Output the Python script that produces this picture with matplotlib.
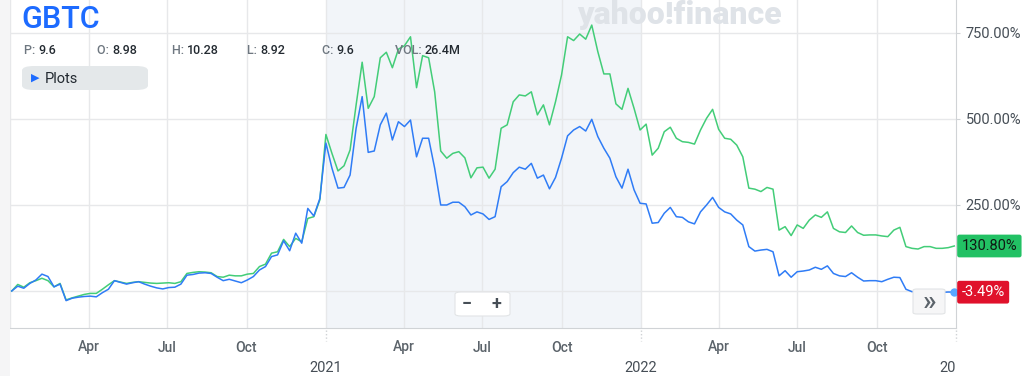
import numpy as np
import pandas as pd
import matplotlib
matplotlib.use("Agg")
import matplotlib.pyplot as plt
from matplotlib.patches import FancyBboxPatch, Rectangle
from matplotlib.transforms import Bbox, blended_transform_factory

plt.rcParams["font.family"] = ["Roboto", "DejaVu Sans"]

# ------------------------------------------------------------------
# data: weekly % change since first close (Jan 2020 -> Dec 2022)
start_date = "2020-01-03"

gbtc = [
    0, 14, 8, 22, 32, 49, 42, 12, 20, -28,
    -21, -18, -16, -15, -17, -5, 5, 30, 25, 20,
    24, 27, 20, 14, 9, 6, 10, 11, 20, 46,
    48, 52, 53, 51, 40, 30, 34, 29, 24, 32,
    42, 61, 71, 100, 105, 146, 117, 168, 139, 240,
    218, 269, 430, 357, 299, 301, 337, 473, 565, 403,
    407, 483, 517, 439, 492, 478, 497, 390, 444, 444,
    357, 250, 250, 258, 258, 245, 221, 230, 224, 208,
    216, 303, 318, 344, 360, 354, 371, 328, 337, 297,
    330, 386, 451, 468, 478, 465, 499, 449, 415, 386,
    332, 299, 354, 294, 255, 253, 197, 199, 226, 243,
    216, 214, 201, 195, 230, 250, 272, 243, 230, 224,
    206, 192, 129, 116, 119, 121, 114, 44, 59, 40,
    56, 58, 61, 69, 63, 73, 51, 44, 42, 53,
    40, 29, 30, 30, 27, 34, 40, 39, 5, -2,
    -2, -3, -4, -3, -4, -3, -3.49,
]

btc = [
    0, 19, 11, 24, 30, 37, 30, 12, 22, -26,
    -20, -15, -10, -7, -7, 5, 18, 30, 26, 22,
    25, 27, 25, 23, 22, 23, 24, 22, 27, 51,
    54, 56, 55, 53, 42, 40, 46, 44, 44, 49,
    51, 71, 78, 110, 114, 150, 129, 153, 143, 211,
    216, 265, 455, 400, 349, 364, 410, 541, 665, 531,
    565, 678, 694, 649, 703, 713, 739, 591, 684, 678,
    579, 407, 386, 400, 405, 387, 329, 358, 360, 328,
    354, 473, 483, 550, 570, 567, 579, 512, 541, 483,
    550, 628, 739, 728, 747, 732, 773, 696, 631, 631,
    544, 528, 589, 531, 468, 485, 395, 415, 463, 476,
    444, 434, 432, 427, 468, 502, 528, 470, 444, 441,
    424, 390, 299, 296, 289, 301, 296, 177, 187, 161,
    192, 182, 206, 221, 214, 230, 182, 172, 170, 189,
    170, 162, 163, 163, 160, 158, 177, 185, 129, 124,
    122, 129, 129, 124, 124, 126, 130.80,
]

y_ticks = [0, 250, 500, 750]
y_tick_labels = ["", "250.00%", "500.00%", "750.00%"]

quote_labels = ["P:", "O:", "H:", "L:", "C:", "VOL:"]
quote_values = ["9.6", "8.98", "10.28", "8.92", "9.6", "26.4M"]

dates = pd.date_range(start_date, periods=len(gbtc), freq="W-FRI")

BLUE = "#2f7cf6"
GREEN = "#43cd78"
GRID = "#e7e8ea"
AXIS = "#d0d3d6"

W, H = 1024, 376
fig = plt.figure(figsize=(W / 100, H / 100), dpi=100)
fig.patch.set_facecolor("white")

# thin light strip on the left edge
fig.patches.append(Rectangle((0, 0), 10 / W, 1, transform=fig.transFigure,
                             facecolor="#f5f5f6", edgecolor="none", zorder=0))

ax = fig.add_axes([10 / W, 48 / H, 946 / W, 328 / H])
ax.set_facecolor("none")

# 2021 highlight band
ax.axvspan(pd.Timestamp("2021-01-01"), pd.Timestamp("2022-01-01"),
           color="#f2f5f9", zorder=0, lw=0)

ax.plot(dates, btc, color=GREEN, lw=1.1, zorder=3)
ax.plot(dates, gbtc, color=BLUE, lw=1.1, zorder=4)
ax.plot(dates[-1], gbtc[-1], "o", color="#5aa8ff", ms=5, zorder=5, clip_on=False)

ax.set_xlim(pd.Timestamp("2020-01-01"), pd.Timestamp("2023-01-01"))
ax.set_ylim(-107.6, 845.9)

# ------------------------------------------------------------------
# axes styling
for side in ["top", "left"]:
    ax.spines[side].set_visible(False)
ax.spines["bottom"].set_color(AXIS)
ax.spines["right"].set_color(AXIS)

ax.yaxis.tick_right()
ax.set_yticks(y_ticks)
ax.set_yticklabels(y_tick_labels)
ax.tick_params(axis="y", length=3, color=AXIS, pad=4, labelsize=10.5, labelcolor="#464e56")

quarters = pd.date_range("2020-01-01", "2022-12-31", freq="QS")
ax.set_xticks(quarters)
ax.set_xticklabels(["" if d.month == 1 else d.strftime("%b") for d in quarters])
ax.tick_params(axis="x", length=0, pad=9, labelsize=10, labelcolor="#5b636a")
for lbl in ax.get_xticklabels():
    lbl.set_fontweight("medium")

ax.grid(True, color=GRID, lw=1, zorder=1)
ax.set_axisbelow(True)

# year labels under the January ticks
trans = blended_transform_factory(ax.transData, ax.transAxes)
for yr in [2021, 2022, 2023]:
    d = pd.Timestamp(f"{yr}-01-01")
    ax.plot([d, d], [-0.005, -0.04], transform=trans, color="#cfd2d5",
            lw=1, ls=(0, (1, 1.5)), clip_on=False)
    t = ax.text(d, -0.1, str(yr), transform=trans, ha="center", va="top",
                fontsize=10.5, color="#464e56")
    if yr == 2023:
        t.set_clip_box(Bbox([[0, 0], [956, H]]))
        t.set_clip_on(True)

# ------------------------------------------------------------------
# last value badges
def badge(val, face, txtcolor):
    ax.annotate(f"{val:.2f}%", xy=(1, val), xycoords=("axes fraction", "data"),
                xytext=(4, 0), textcoords="offset points", ha="left", va="center",
                fontsize=10.5, color=txtcolor, annotation_clip=False, zorder=10,
                bbox=dict(boxstyle="round,pad=0.3,rounding_size=0.15",
                          fc=face, ec="none"))

badge(btc[-1], "#22c164", "#0f1a14")
badge(gbtc[-1], "#e0112b", "white")

# ------------------------------------------------------------------
# header overlay
fig.text(21 / W, 1 - 19 / H, "GBTC", fontsize=22, color="#1d6bff",
         fontweight="medium", va="center", ha="left")

qx = [24, 97, 172, 247, 322, 395]
fig.canvas.draw()
for x, lab, val in zip(qx, quote_labels, quote_values):
    t1 = fig.text(x / W, 1 - 50 / H, lab + " ", fontsize=9, color="#6e7780",
                  va="center", ha="left", fontweight="medium")
    bb = t1.get_window_extent(renderer=fig.canvas.get_renderer())
    fig.text(bb.x1 / W, 1 - 50 / H, val, fontsize=9, color="#232a31",
             va="center", ha="left", fontweight="medium")

fig.patches.append(FancyBboxPatch((22 / W, 1 - 90 / H), 126 / W, 24 / H,
                                  boxstyle="round,pad=0,rounding_size=0.012",
                                  transform=fig.transFigure, facecolor="#e4e8ea",
                                  edgecolor="none", zorder=5))
fig.text(31 / W, 1 - 78 / H, "▶", fontsize=8, color="#1d6bff", va="center",
         ha="left", zorder=6)
fig.text(45 / W, 1 - 79 / H, "Plots", fontsize=10.5, color="#232a31",
         va="center", ha="left", zorder=6)

fig.text(577 / W, 1 - 15 / H, "yahoo!finance", fontsize=23, color="#dfe3e8",
         fontweight="black", va="center", ha="left", zorder=0)

# zoom buttons
fig.patches.append(FancyBboxPatch((455 / W, 1 - 316 / H), 55 / W, 24 / H,
                                  boxstyle="round,pad=0,rounding_size=0.006",
                                  transform=fig.transFigure, facecolor="white",
                                  edgecolor="#e2e4e6", lw=0.8, zorder=6))
fig.text(467 / W, 1 - 304 / H, "−", fontsize=13, color="#464e56", ha="center",
         va="center", zorder=7, fontweight="bold")
fig.text(496 / W, 1 - 304 / H, "+", fontsize=13, color="#464e56", ha="center",
         va="center", zorder=7, fontweight="bold")
fig.lines.append(plt.Line2D([483 / W, 483 / W], [1 - 296 / H, 1 - 312 / H],
                            transform=fig.transFigure, color="#e2e4e6", lw=0.8))

fig.patches.append(FancyBboxPatch((913 / W, 1 - 314 / H), 32 / W, 25 / H,
                                  boxstyle="round,pad=0,rounding_size=0.004",
                                  transform=fig.transFigure, facecolor="#f6f6f7",
                                  edgecolor="#e2e4e6", lw=0.8, zorder=6))
fig.text(929 / W, 1 - 302 / H, "»", fontsize=20, color="#5b636a", ha="center",
         va="center", zorder=7, fontweight="medium")

fig.savefig("out.png", dpi=100)
